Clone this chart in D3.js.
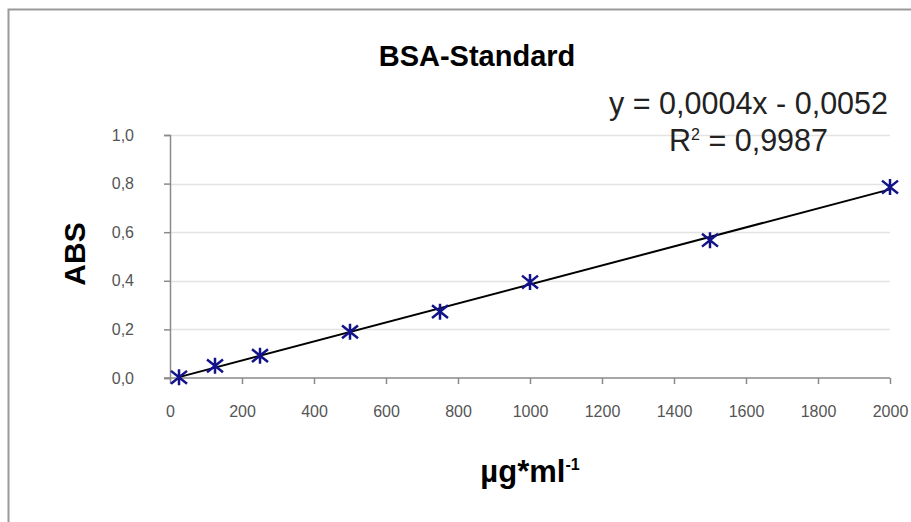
<!DOCTYPE html>
<html>
<head>
<meta charset="utf-8">
<script src="https://cdn.jsdelivr.net/npm/d3@7"></script>
<style>
  html, body { margin: 0; padding: 0; background: #fff; }
  svg { display: block; font-family: "Liberation Sans", Arial, sans-serif; }
</style>
</head>
<body>
<div id="chart"></div>
<script>
// BSA-Standard — Eichgerade (ABS gegen Konzentration)

const concentrations = [25, 125, 250, 500, 750, 1000, 1500, 2000];
const absorbances    = [0.003, 0.050, 0.092, 0.190, 0.273, 0.395, 0.567, 0.786];
const xTicks = [0, 200, 400, 600, 800, 1000, 1200, 1400, 1600, 1800, 2000];
const yTicks = [0, 0.2, 0.4, 0.6, 0.8, 1.0];
const titleText    = 'BSA-Standard';
const equationText = 'y = 0,0004x - 0,0052';
const r2Value      = '0,9987';

const W = 911, H = 522;
const plot = { left: 170, right: 890, top: 135, bottom: 378 };

const svg = d3.select('#chart').append('svg')
    .attr('width', W)
    .attr('height', H);

// Rahmen (rechts/unten ausserhalb des Bildes)
svg.append('rect')
    .attr('x', 8.5).attr('y', 9.5)
    .attr('width', 960).attr('height', 560)
    .attr('fill', '#fff')
    .attr('stroke', '#9a9a9a')
    .attr('stroke-width', 2);

const x = d3.scaleLinear().domain([0, 2000]).range([plot.left, plot.right]);
const y = d3.scaleLinear().domain([0, 1]).range([plot.bottom, plot.top]);
const comma = v => d3.format('.1f')(v).replace('.', ',');

// Gitterlinien
svg.append('g')
    .selectAll('line')
    .data(yTicks.filter(v => v > 0))
    .join('line')
    .attr('x1', plot.left).attr('x2', plot.right)
    .attr('y1', d => Math.round(y(d)) + 0.5)
    .attr('y2', d => Math.round(y(d)) + 0.5)
    .attr('stroke', '#e3e3e3')
    .attr('stroke-width', 1.5);

// Achsen
const xAxis = svg.append('g')
    .attr('transform', `translate(0,${plot.bottom})`)
    .call(d3.axisBottom(x).tickValues(xTicks).tickSize(6).tickPadding(22).tickFormat(d3.format('d')));

const yAxis = svg.append('g')
    .attr('transform', `translate(${plot.left},0)`)
    .call(d3.axisLeft(y).tickValues(yTicks).tickSize(6).tickPadding(30).tickFormat(comma));

[xAxis, yAxis].forEach(g => {
    g.select('.domain').attr('stroke', '#8a8a8a').attr('stroke-width', 1.5);
    g.selectAll('.tick line').attr('stroke', '#8a8a8a').attr('stroke-width', 1.5);
    g.selectAll('.tick text')
        .attr('fill', '#555')
        .style('font-size', '16px')
        .style('font-family', '"Liberation Sans", Arial, sans-serif');
});
xAxis.select('.domain').attr('d', `M${plot.left - 6},0H${plot.right}`);

// Trendlinie (lineare Regression aus den Messwerten)
const reg = (() => {
    const mx = d3.mean(concentrations);
    const my = d3.mean(absorbances);
    let sxy = 0, sxx = 0;
    concentrations.forEach((c, i) => {
        sxy += (c - mx) * (absorbances[i] - my);
        sxx += (c - mx) * (c - mx);
    });
    const slope = sxy / sxx;
    return { slope, intercept: my - slope * mx };
})();
const xExtent = d3.extent(concentrations);

svg.append('path')
    .datum(xExtent)
    .attr('fill', 'none')
    .attr('stroke', '#000')
    .attr('stroke-width', 2)
    .attr('d', d3.line()
        .x(d => x(d))
        .y(d => y(reg.slope * d + reg.intercept)));

// Sternmarker (X + senkrechter Strich)
const starSymbol = {
    draw(ctx, size) {
        const r = Math.sqrt(size) / 2;
        ctx.moveTo(0, -r); ctx.lineTo(0, r);
        ctx.moveTo(-r, -r * 0.8); ctx.lineTo(r, r * 0.8);
        ctx.moveTo(-r, r * 0.8); ctx.lineTo(r, -r * 0.8);
    }
};

svg.append('g')
    .selectAll('path')
    .data(concentrations.map((c, i) => [c, absorbances[i]]))
    .join('path')
    .attr('transform', d => `translate(${x(d[0])},${y(d[1])})`)
    .attr('d', d3.symbol().type(starSymbol).size(256))
    .attr('fill', 'none')
    .attr('stroke', '#12128a')
    .attr('stroke-width', 2.5);

// Texte
svg.append('text')
    .attr('x', 477).attr('y', 66)
    .attr('text-anchor', 'middle')
    .style('font-size', '29px')
    .style('font-weight', 'bold')
    .attr('fill', '#000')
    .text(titleText);

svg.append('text')
    .attr('x', 888).attr('y', 114)
    .attr('text-anchor', 'end')
    .style('font-size', '30.5px')
    .attr('fill', '#222')
    .text(equationText);

const r2 = svg.append('text')
    .attr('x', 828).attr('y', 151)
    .attr('text-anchor', 'end')
    .style('font-size', '30.5px')
    .attr('fill', '#222');
r2.append('tspan').text('R');
r2.append('tspan').attr('dy', -11).style('font-size', '16px').text('2');
r2.append('tspan').attr('dy', 11).text(' = ' + r2Value);

svg.append('text')
    .attr('transform', 'translate(85,254) rotate(-90)')
    .attr('text-anchor', 'middle')
    .style('font-size', '30px')
    .style('font-weight', 'bold')
    .attr('fill', '#000')
    .text('ABS');

const xl = svg.append('text')
    .attr('x', 530).attr('y', 482)
    .attr('text-anchor', 'middle')
    .style('font-size', '31px')
    .style('font-weight', 'bold')
    .attr('fill', '#000');
xl.append('tspan').text('µg*ml');
xl.append('tspan').attr('dy', -12).style('font-size', '16px').text('-1');
</script>
</body>
</html>
